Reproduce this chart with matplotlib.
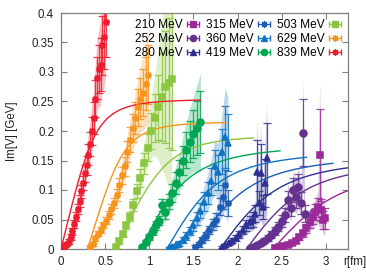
import numpy as np
import matplotlib
matplotlib.use("Agg")
import matplotlib.pyplot as plt
from matplotlib.ticker import FuncFormatter, MultipleLocator

plt.rcParams['font.family'] = ['Liberation Sans', 'DejaVu Sans']

labels = ["210 MeV", "252 MeV", "280 MeV", "315 MeV", "360 MeV",
          "419 MeV", "503 MeV", "629 MeV", "839 MeV"]
colors = ["#9a2a98", "#65318f", "#2e3192", "#1c5cb5", "#0f74c4",
          "#00a651", "#8cc63f", "#f7941d", "#ed1c2e"]
markers = ['s', 'o', '^', (8, 2, 0), '^', 'o', 's', (8, 2, 0), (8, 2, 0)]

# ---------------- data ----------------
r_839 = [0.01, 0.03, 0.05, 0.07, 0.09, 0.11, 0.13, 0.15, 0.17, 0.19, 0.21, 0.23, 0.25,
         0.27, 0.29, 0.31, 0.33, 0.35, 0.37, 0.39, 0.41, 0.43, 0.45, 0.47, 0.49, 0.51]
v_839 = [0.002, 0.004, 0.006, 0.009, 0.013, 0.020, 0.030, 0.042, 0.055, 0.068, 0.082, 0.098, 0.112,
         0.128, 0.142, 0.160, 0.178, 0.200, 0.222, 0.255, 0.290, 0.305, 0.312, 0.345, 0.360, 0.385]
e_839 = [0.002, 0.002, 0.003, 0.003, 0.004, 0.005, 0.006, 0.007, 0.008, 0.009, 0.010, 0.011, 0.012,
         0.014, 0.016, 0.018, 0.021, 0.024, 0.027, 0.031, 0.036, 0.040, 0.045, 0.050, 0.055, 0.060]

r_629 = [0.33, 0.36, 0.39, 0.42, 0.45, 0.48, 0.51, 0.54, 0.57, 0.60, 0.63, 0.66, 0.69, 0.72,
         0.75, 0.78, 0.81, 0.84, 0.87, 0.90, 0.93, 0.96, 0.99]
v_629 = [0.003, 0.008, 0.018, 0.026, 0.032, 0.040, 0.048, 0.058, 0.068, 0.078, 0.092, 0.108, 0.125, 0.140,
         0.165, 0.185, 0.205, 0.222, 0.240, 0.255, 0.265, 0.280, 0.295]
e_629 = [0.003, 0.003, 0.004, 0.004, 0.005, 0.005, 0.006, 0.007, 0.008, 0.009, 0.010, 0.012, 0.014, 0.016,
         0.018, 0.021, 0.024, 0.027, 0.031, 0.035, 0.040, 0.045, 0.050]

r_503 = [0.62, 0.66, 0.70, 0.74, 0.78, 0.82, 0.86, 0.90, 0.94, 0.98, 1.02, 1.06, 1.10, 1.14,
         1.18, 1.22, 1.26]
v_503 = [0.004, 0.013, 0.025, 0.040, 0.055, 0.075, 0.098, 0.120, 0.145, 0.172, 0.200, 0.222, 0.240, 0.258,
         0.275, 0.282, 0.288]
e_503 = [0.003, 0.004, 0.005, 0.006, 0.008, 0.010, 0.012, 0.015, 0.018, 0.023, 0.030, 0.040, 0.055, 0.075,
         0.095, 0.110, 0.120]

r_419 = [0.92, 0.96, 1.00, 1.04, 1.08, 1.11, 1.14, 1.18, 1.22, 1.26, 1.30, 1.34, 1.38, 1.42,
         1.46, 1.50, 1.54, 1.58]
v_419 = [0.004, 0.012, 0.020, 0.030, 0.040, 0.048, 0.075, 0.062, 0.080, 0.095, 0.112, 0.130, 0.150, 0.168,
         0.182, 0.195, 0.205, 0.215]
e_419 = [0.003, 0.004, 0.005, 0.006, 0.007, 0.008, 0.010, 0.011, 0.013, 0.015, 0.018, 0.021, 0.025, 0.030,
         0.035, 0.040, 0.046, 0.052]

r_360 = [1.22, 1.26, 1.30, 1.34, 1.38, 1.42, 1.46, 1.50, 1.54, 1.58, 1.62, 1.66, 1.70, 1.74,
         1.78, 1.82, 1.86, 1.89]
v_360 = [0.002, 0.004, 0.006, 0.009, 0.015, 0.022, 0.030, 0.040, 0.052, 0.065, 0.080, 0.095, 0.115, 0.140,
         0.130, 0.165, 0.190, 0.180]
e_360 = [0.002, 0.003, 0.003, 0.004, 0.005, 0.006, 0.007, 0.009, 0.011, 0.013, 0.016, 0.019, 0.023, 0.028,
         0.030, 0.038, 0.052, 0.048]

r_315 = [1.52, 1.56, 1.60, 1.64, 1.68, 1.72, 1.76, 1.80, 1.83, 1.86, 1.89]
v_315 = [0.003, 0.008, 0.015, 0.022, 0.032, 0.042, 0.050, 0.072, 0.088, 0.108, 0.078]
e_315 = [0.003, 0.004, 0.005, 0.006, 0.007, 0.009, 0.011, 0.015, 0.020, 0.026, 0.022]

r_280 = [1.82, 1.86, 1.90, 1.94, 1.98, 2.02, 2.06, 2.10, 2.14, 2.17, 2.20, 2.22, 2.24, 2.26,
         2.29, 2.31, 2.33]
v_280 = [0.003, 0.006, 0.010, 0.014, 0.019, 0.025, 0.032, 0.040, 0.046, 0.050, 0.060, 0.130, 0.078, 0.128,
         0.071, 0.112, 0.154]
e_280 = [0.002, 0.003, 0.004, 0.004, 0.005, 0.006, 0.007, 0.009, 0.010, 0.012, 0.014, 0.055, 0.020, 0.050,
         0.020, 0.040, 0.060]

r_252 = [2.14, 2.18, 2.22, 2.26, 2.30, 2.34, 2.38, 2.42, 2.46, 2.50, 2.54, 2.57, 2.60, 2.63,
         2.66, 2.69, 2.72, 2.74, 2.76]
v_252 = [0.002, 0.004, 0.007, 0.010, 0.014, 0.018, 0.024, 0.030, 0.038, 0.048, 0.058, 0.083, 0.070, 0.100,
         0.088, 0.105, 0.078, 0.197, 0.060]
e_252 = [0.002, 0.003, 0.003, 0.004, 0.004, 0.005, 0.006, 0.007, 0.008, 0.010, 0.012, 0.016, 0.014, 0.020,
         0.018, 0.022, 0.018, 0.057, 0.015]

r_210 = [2.42, 2.47, 2.52, 2.57, 2.62, 2.66, 2.70, 2.74, 2.78, 2.82, 2.85, 2.88, 2.91, 2.93,
         2.95, 2.97, 2.99]
v_210 = [0.001, 0.003, 0.005, 0.007, 0.010, 0.014, 0.020, 0.027, 0.035, 0.045, 0.054, 0.063, 0.071, 0.159,
         0.066, 0.049, 0.052]
e_210 = [0.002, 0.002, 0.003, 0.003, 0.004, 0.004, 0.005, 0.006, 0.008, 0.010, 0.012, 0.014, 0.016, 0.078,
         0.018, 0.015, 0.018]

# fit curve parameters: start offset, amplitude, width, sharpness, length
fit_start = [2.4, 2.1, 1.8, 1.5, 1.2, 0.9, 0.6, 0.3, 0.0]
fit_amp = [0.140, 0.150, 0.155, 0.160, 0.168, 0.178, 0.193, 0.216, 0.254]
fit_width = [0.85, 0.75, 0.75, 0.73, 0.65, 0.60, 0.67, 0.45, 0.42]
fit_sharp = [2, 2, 2, 2, 2, 2, 3, 3, 3]
fit_len = 1.58

rs = [r_210, r_252, r_280, r_315, r_360, r_419, r_503, r_629, r_839]
vs = [v_210, v_252, v_280, v_315, v_360, v_419, v_503, v_629, v_839]
es = [e_210, e_252, e_280, e_315, e_360, e_419, e_503, e_629, e_839]

fig = plt.figure(figsize=(3.66, 2.74), dpi=100)
ax = fig.add_axes([61 / 366, 1 - 249 / 274, 286.5 / 366, 236 / 274])

for i in range(9):
    r = np.array(rs[i]); v = np.array(vs[i]); e = np.array(es[i])
    c = colors[i]
    ax.fill_between(r, v - 1.6 * e, v + 1.6 * e, color=c, alpha=0.28, lw=0, zorder=1)
    # fit curve
    rr = np.linspace(fit_start[i], fit_start[i] + fit_len, 200)
    x = (rr - fit_start[i]) / fit_width[i]
    n = fit_sharp[i]
    ax.plot(rr, fit_amp[i] * x / (1 + x ** n) ** (1.0 / n), color=c, lw=1.0, zorder=3)
    m = markers[i]
    ax.errorbar(r, v, yerr=e, fmt='none', ecolor=c, elinewidth=0.9, capsize=3,
                capthick=0.9, alpha=0.85, zorder=2)
    ax.plot(r, v, ls='none', marker=m, color=c, ms=5, mew=1.1, zorder=4)

# legend proxies
handles = []
for i in range(9):
    h = ax.errorbar([np.nan], [np.nan], xerr=[0.1], fmt='', ls='none', marker=markers[i],
                    color=colors[i], ms=4.5, mew=1.0, elinewidth=0.9, capsize=2.5, capthick=0.9)
    handles.append(h)
leg = ax.legend(handles, labels, ncol=3, loc='upper right', bbox_to_anchor=(0.978, 0.975),
                frameon=False, markerfirst=False, fontsize=8.6, handlelength=1.0,
                handletextpad=0.4, columnspacing=0.55, labelspacing=0.18, borderpad=0.0,
                borderaxespad=0.0)

ax.set_xlim(0, 3.245)
ax.set_ylim(0, 0.4)
ax.xaxis.set_major_locator(MultipleLocator(0.5))
ax.yaxis.set_major_locator(MultipleLocator(0.05))
fmt = FuncFormatter(lambda val, pos: "%g" % round(val, 3))
ax.xaxis.set_major_formatter(fmt)
ax.yaxis.set_major_formatter(fmt)
ax.tick_params(direction='in', length=4, width=0.8, color='#808080', top=True, right=True,
               labelsize=8.3, labelcolor='#222222', pad=5)
for s in ax.spines.values():
    s.set_color('#808080')
    s.set_linewidth(0.9)

ax.set_ylabel("Im[V] [GeV]", fontsize=8.3, color='#222222', labelpad=10)
ax.set_xlabel("r[fm]", fontsize=8.3, color='#222222')
ax.xaxis.set_label_coords(0.984, -0.055)
ax.xaxis.label.set_ha('left')
ax.xaxis.label.set_va('center')

fig.savefig("out.png", dpi=100)
